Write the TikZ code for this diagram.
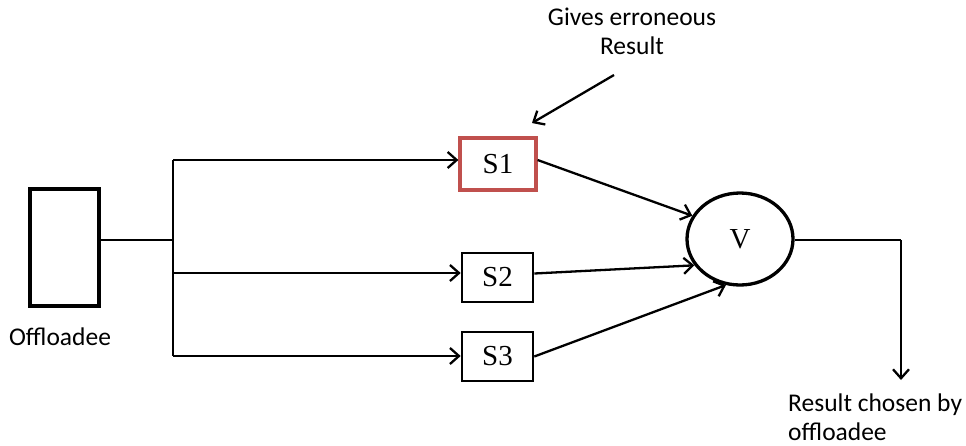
\documentclass[tikz,border=0pt]{standalone}
\usepackage{fontspec}
\setmainfont{Liberation Serif}
\newfontfamily\labelfont{Carlito}
\usetikzlibrary{arrows.meta,shapes.geometric}
\definecolor{faultred}{RGB}{192,80,77}
\begin{document}
\begin{tikzpicture}[x=1pt,y=-1pt,
  wire/.style={line width=2.3pt},
  feed/.style={wire,-{Straight Barb[length=9pt,width=16pt,line width=2.3pt]}},
  unit/.style={draw,line width=2.6pt,minimum width=71pt,minimum height=49pt,
    inner sep=0pt,font=\fontsize{29}{32}\selectfont},
  note/.style={font=\labelfont\fontsize{25.5}{29}\selectfont,inner sep=0pt}]
\useasboundingbox (0,0) rectangle (966,445);
% offloadee block
\node[draw,line width=4pt,minimum width=69pt,minimum height=117pt,inner sep=0pt]
  (off) at (64.5,247.5) {};
\node[note] (offlbl) at (60,337) {Offloadee};
% three servers
\node[unit,draw=faultred,line width=3.2pt,minimum width=76pt,minimum height=52pt]
  (s1) at (498,164) {S1};
\node[unit] (s2) at (497.5,277.5) {S2};
\node[unit] (s3) at (497.5,356.5) {S3};
% voter
\node[draw,ellipse,line width=3.3pt,minimum width=106pt,minimum height=92pt,
  inner sep=0pt,font=\fontsize{29}{32}\selectfont] (v) at (740,239) {V};
% fan-out
\coordinate (split) at (173,240);
\coordinate (top) at (173,160);
\coordinate (mid) at (173,273);
\coordinate (bot) at (173,356);
\draw[wire] (off.east |- split) -- (split);
\draw[wire] (top) -- (bot);
\draw[feed] (top) -- (top -| s1.west);
\draw[feed] (mid) -- (mid -| s2.west);
\draw[feed] (bot) -- (bot -| s3.west);
% results into the voter
\draw[feed] ([yshift=4pt]s1.east) -- (v.154);
\draw[feed] ([yshift=4pt]s2.east) -- (v.210);
\draw[feed] (s3.east) -- (v.253);
% chosen result
\coordinate (corner) at (901,240);
\coordinate (outend) at (901,380);
\draw[wire] (v.east |- corner) -- (corner);
\draw[feed] (corner) -- (outend);
\node[note,anchor=west,align=left] (outlbl) at (788,417) {Result chosen by\\offloadee};
% fault annotation
\coordinate (gtail) at (614,75);
\coordinate (ghead) at (532,123);
\draw[feed] (gtail) -- (ghead);
\node[note,align=center] (glbl) at (632,31) {Gives erroneous\\Result};
\end{tikzpicture}
\end{document}
